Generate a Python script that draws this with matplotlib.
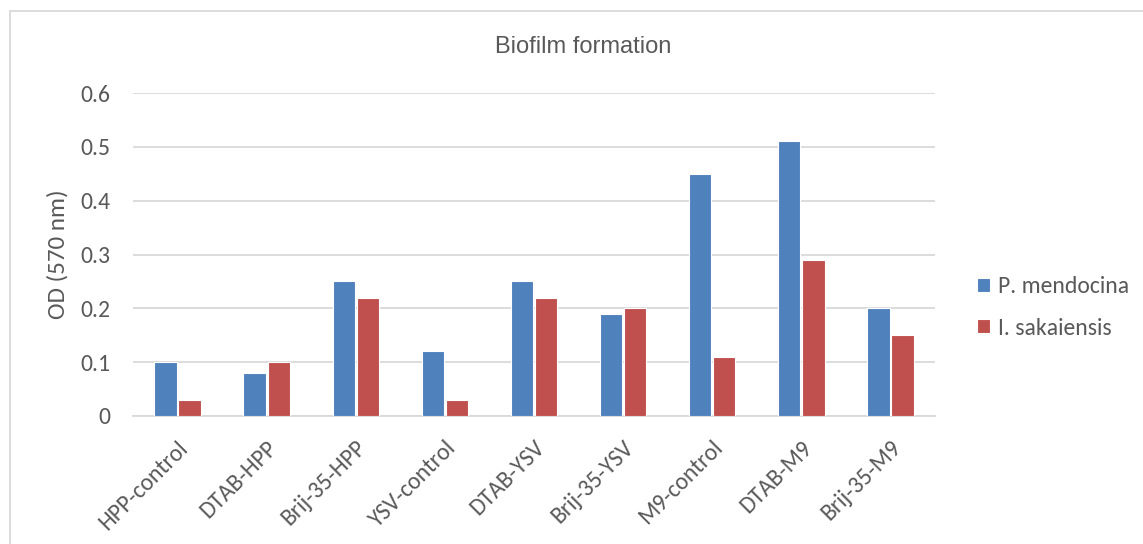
import matplotlib
matplotlib.use("Agg")
import matplotlib.pyplot as plt
from matplotlib.patches import Rectangle
import numpy as np

categories = ["HPP-control", "DTAB-HPP", "Brij-35-HPP", "YSV-control", "DTAB-YSV",
              "Brij-35-YSV", "M9-control", "DTAB-M9", "Brij-35-M9"]
p_mendocina = [0.10, 0.08, 0.25, 0.12, 0.25, 0.19, 0.45, 0.51, 0.20]
i_sakaiensis = [0.03, 0.10, 0.22, 0.03, 0.22, 0.20, 0.11, 0.29, 0.15]
y_ticks = [0, 0.1, 0.2, 0.3, 0.4, 0.5, 0.6]
y_tick_labels = ["0", "0.1", "0.2", "0.3", "0.4", "0.5", "0.6"]

plt.rcParams['font.family'] = ['Carlito', 'Lato', 'DejaVu Sans']
text_color = "#595959"
grid_color = "#D9D9D9"

W, H = 1143, 544
fig = plt.figure(figsize=(W / 100, H / 100), dpi=100)
ax = fig.add_axes([133 / W, 1 - 416 / H, (935 - 133) / W, (416 - 93) / H])

x = np.arange(len(categories))
bw = 0.25
ax.bar(x - bw / 2 - 0.01, p_mendocina, width=bw, color="#4F81BD", edgecolor="white",
       linewidth=0.8, label="P. mendocina", zorder=3)
ax.bar(x + bw / 2 + 0.01, i_sakaiensis, width=bw, color="#C0504D", edgecolor="white",
       linewidth=0.8, label="I. sakaiensis", zorder=3)

ax.set_xlim(-0.5, len(categories) - 0.5)
ax.set_ylim(0, 0.6)
ax.set_yticks(y_ticks)
ax.set_yticklabels(y_tick_labels)
ax.set_xticks(x)
ax.set_xticklabels(categories, rotation=45, ha="right", rotation_mode="anchor")
ax.tick_params(axis="both", length=0, labelsize=17, colors=text_color)
ax.tick_params(axis="y", pad=16.5)
ax.tick_params(axis="x", pad=15)

ax.grid(axis="y", color=grid_color, linewidth=1.3, zorder=0)
for s in ["top", "right", "left"]:
    ax.spines[s].set_visible(False)
ax.spines["bottom"].set_color(grid_color)
ax.spines["bottom"].set_linewidth(1.3)

ax.set_ylabel("OD (570 nm)", fontsize=18, color=text_color, labelpad=8)

# chart title, centred over the whole chart area
fig.text(583 / W, 1 - 47 / H, "Biofilm formation", fontsize=17, color=text_color,
         ha="center", va="center", family=["Liberation Sans", "DejaVu Sans"])

ax.legend(loc="center left", bbox_to_anchor=(1.052, 0.336), frameon=False,
          borderaxespad=0, borderpad=0,
          fontsize=17, labelcolor=text_color, handlelength=0.55, handleheight=0.55,
          handletextpad=0.35, labelspacing=0.85)

# outer chart border
fig.patches.append(Rectangle((10 / W, -0.1), 1.2, 1 - 11 / H + 0.1, transform=fig.transFigure,
                             fill=False, edgecolor="#D9D9D9", linewidth=1.3))

fig.savefig("out.png", dpi=100, facecolor="white")
